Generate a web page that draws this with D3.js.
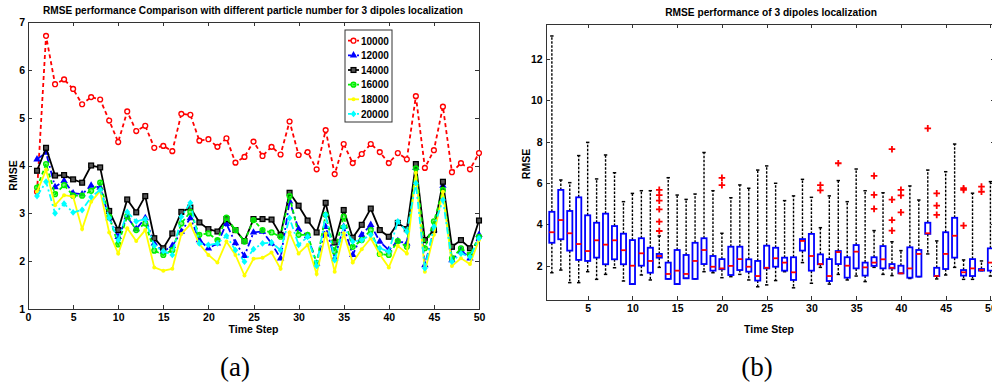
<!DOCTYPE html>
<html lang="en">
<head>
<meta charset="UTF-8">
<title>RMSE performance - D3.js v7</title>
<script src="https://d3js.org/d3.v7.min.js"></script>
<style>
    body { margin: 0; background: #fff; }
    svg { display: block; }
    .axis text { font-family: "Liberation Sans", Arial, sans-serif; font-size: 10.5px; font-weight: bold; fill: #000; }
    .axis path, .axis line { stroke: #333; stroke-width: 1; shape-rendering: crispEdges; }
    .title, .label, .legend text { font-family: "Liberation Sans", Arial, sans-serif; font-weight: bold; fill: #000; }
    .caption { font-family: "Liberation Serif", "DejaVu Serif", serif; font-size: 27px; fill: #000; }
</style>
</head>
<body>
<div id="chart"></div>
<script>
// time steps shared by both panels
const timeSteps = d3.range(1, 51);

// (a) RMSE per particle number
const rmse10000 = [3.45, 6.71, 5.70, 5.80, 5.60, 5.28, 5.43, 5.38, 4.94, 4.49, 5.13, 4.72, 4.83, 4.37, 4.41, 4.30, 5.08, 5.06, 4.52, 4.55, 4.39, 4.57, 4.06, 4.18, 4.50, 4.20, 4.39, 4.23, 4.92, 4.22, 4.28, 3.92, 4.74, 3.82, 4.45, 4.05, 4.24, 4.45, 4.28, 4.05, 4.26, 4.13, 5.45, 3.95, 4.32, 5.23, 3.86, 4.05, 3.92, 4.26];
const rmse12000 = [4.13, 4.27, 3.55, 3.68, 3.42, 3.40, 3.58, 3.54, 2.90, 2.51, 2.92, 2.67, 2.90, 2.37, 2.20, 2.32, 2.62, 2.90, 2.44, 2.27, 2.37, 2.78, 2.38, 2.11, 2.60, 2.62, 2.37, 2.06, 3.25, 2.67, 2.53, 1.95, 2.72, 2.06, 2.72, 2.13, 2.55, 2.76, 2.41, 2.23, 2.42, 2.37, 3.95, 1.92, 2.65, 3.58, 2.02, 2.23, 2.06, 2.55];
const rmse14000 = [3.89, 4.37, 3.79, 3.80, 3.71, 3.64, 4.00, 3.96, 3.05, 2.65, 3.29, 3.02, 3.36, 2.48, 2.27, 2.58, 3.03, 3.12, 2.81, 2.67, 2.62, 2.88, 2.65, 2.42, 2.88, 2.88, 2.87, 2.55, 3.43, 3.16, 2.85, 2.60, 3.22, 2.39, 3.07, 2.49, 2.76, 3.10, 2.65, 2.51, 2.80, 2.67, 4.03, 2.44, 2.65, 3.66, 2.30, 2.44, 2.27, 2.85];
const rmse16000 = [3.54, 4.03, 3.40, 3.59, 3.37, 3.37, 3.47, 3.64, 2.93, 2.35, 2.94, 2.65, 2.79, 2.22, 2.13, 2.23, 2.79, 3.03, 2.55, 2.58, 2.44, 2.91, 2.65, 2.41, 2.86, 2.65, 2.60, 2.51, 3.36, 2.55, 2.55, 1.96, 2.97, 2.20, 2.93, 2.30, 2.44, 2.65, 2.15, 2.13, 2.42, 2.30, 3.94, 2.27, 2.83, 3.49, 2.06, 2.27, 2.13, 2.51];
const rmse18000 = [3.45, 3.91, 3.17, 3.38, 3.35, 2.67, 3.24, 3.47, 2.60, 2.16, 2.69, 2.42, 2.65, 1.87, 1.80, 1.84, 2.57, 2.77, 2.36, 2.13, 1.97, 2.41, 2.13, 1.70, 2.05, 2.07, 2.18, 1.84, 2.60, 2.16, 2.34, 1.73, 2.58, 1.78, 2.58, 1.97, 2.25, 2.48, 2.14, 1.87, 2.32, 2.16, 3.85, 1.78, 2.55, 3.45, 1.90, 2.06, 1.94, 2.44];
const rmse20000 = [3.36, 3.66, 3.00, 3.20, 3.02, 3.07, 3.34, 3.49, 2.90, 2.44, 3.03, 2.83, 2.88, 2.32, 2.21, 2.13, 2.93, 3.22, 2.37, 2.34, 2.37, 2.53, 2.23, 1.99, 2.25, 2.37, 2.39, 2.23, 2.90, 2.34, 2.51, 1.90, 2.97, 2.02, 2.72, 2.41, 2.44, 2.55, 2.27, 2.20, 2.83, 2.62, 3.63, 1.85, 2.72, 3.28, 1.99, 2.16, 2.09, 2.48];
const seriesNames = ["10000", "12000", "14000", "16000", "18000", "20000"];

// (b) boxplot statistics per time step
const boxLow  = [1.66, 1.79, 1.18, 1.18, 1.71, 1.34, 1.58, 1.90, 1.26, 1.11, 1.55, 1.31, 1.92, 1.36, 1.11, 1.39, 1.36, 1.71, 1.66, 1.42, 1.47, 1.58, 1.31, 0.98, 1.07, 1.28, 1.71, 0.93, 2.15, 1.15, 1.92, 1.11, 1.58, 1.31, 1.50, 1.23, 1.92, 1.58, 1.52, 1.63, 1.38, 1.47, 2.57, 1.36, 1.55, 1.92, 1.34, 1.34, 1.76, 1.50];
const boxQ1   = [3.11, 3.28, 2.73, 2.28, 2.23, 2.39, 2.07, 2.31, 2.07, 1.11, 2.00, 1.66, 2.39, 1.36, 1.11, 1.39, 1.36, 2.08, 1.76, 1.83, 1.55, 1.79, 1.71, 1.28, 1.87, 1.95, 1.76, 1.31, 2.73, 1.76, 2.07, 1.26, 2.08, 1.42, 1.87, 1.52, 1.99, 1.87, 1.87, 1.63, 1.42, 1.47, 3.54, 1.50, 1.84, 2.39, 1.52, 1.50, 1.76, 1.76];
const boxMed  = [3.62, 4.21, 3.57, 3.05, 2.71, 3.23, 3.02, 3.23, 2.75, 2.00, 2.60, 2.23, 2.47, 1.60, 1.76, 1.60, 2.23, 2.76, 1.95, 1.87, 1.99, 2.32, 1.95, 1.50, 1.90, 2.36, 2.15, 1.68, 3.20, 2.47, 2.08, 1.50, 2.66, 2.00, 2.68, 1.92, 2.15, 2.31, 1.90, 1.63, 1.87, 2.57, 3.57, 1.50, 2.57, 3.45, 1.68, 1.87, 1.79, 2.15];
const boxQ3   = [4.61, 5.67, 4.65, 5.31, 4.44, 4.08, 4.52, 3.92, 3.55, 3.24, 3.33, 2.87, 2.57, 2.15, 2.76, 2.52, 3.11, 3.33, 2.47, 2.32, 2.92, 2.92, 2.31, 2.23, 2.97, 2.87, 2.39, 2.41, 3.29, 3.54, 2.55, 2.32, 2.71, 2.41, 3.00, 2.15, 2.41, 2.95, 2.08, 2.00, 2.89, 2.76, 4.08, 1.90, 3.62, 4.32, 1.79, 2.32, 1.84, 2.84];
const boxHigh = [13.12, 6.15, 6.02, 7.33, 7.97, 6.20, 7.36, 6.50, 5.10, 5.50, 5.63, 5.63, 3.44, 6.26, 5.42, 5.21, 5.47, 7.48, 5.63, 3.57, 5.29, 5.91, 5.75, 6.63, 6.83, 5.99, 5.15, 5.38, 6.18, 5.31, 3.84, 5.38, 6.12, 5.10, 6.68, 5.63, 3.70, 5.53, 3.16, 2.73, 5.86, 5.18, 6.63, 3.20, 6.55, 7.89, 2.28, 5.51, 2.23, 6.07];
const boxOutliers = [
    [], [], [], [], [], [], [], [], [], [], [], [],
    [3.68, 4.13, 4.73, 5.15, 5.42, 5.67],
    [], [], [], [], [], [],
    [5.90, 6.25],
    [], [], [], [], [], [], [], [], [], [],
    [5.65, 5.90],
    [],
    [6.96],
    [], [], [],
    [4.75, 5.43, 6.35],
    [],
    [3.70, 4.21, 5.20, 7.64],
    [4.58, 5.40, 5.67],
    [], [],
    [8.65],
    [4.46, 4.91, 5.50],
    [], [],
    [3.94, 5.67, 5.75],
    [],
    [5.58, 5.83],
    []
];

const xTicksA = [0, 5, 10, 15, 20, 25, 30, 35, 40, 45, 50];
const yTicksA = [1, 2, 3, 4, 5, 6, 7];
const xTicksB = [5, 10, 15, 20, 25, 30, 35, 40, 45, 50];
const yTicksB = [2, 4, 6, 8, 10, 12];

const W = 992, H = 386;
const svg = d3.select("#chart").append("svg")
    .attr("width", W)
    .attr("height", H);

// ---------- panel (a) ----------
const xA = d3.scaleLinear().domain([0, 50]).range([28, 479]);
const yA = d3.scaleLinear().domain([1, 7]).range([309, 22]);

const styles = [
    { color: "#ff0000", dash: "4,3", marker: "circle-open" },
    { color: "#0000ff", dash: "7,3,2,3", marker: "triangle" },
    { color: "#000000", dash: null, marker: "square" },
    { color: "#00ee00", dash: "4,3", marker: "circle" },
    { color: "#ffff00", dash: null, marker: "dot" },
    { color: "#00ffff", dash: "7,3,2,3", marker: "diamond" }
];
const allSeries = [rmse10000, rmse12000, rmse14000, rmse16000, rmse18000, rmse20000];

function axesFrame(g, x, y, xTicks, yTicks) {
    const [x0, x1] = x.range(), [y0, y1] = y.range();
    const fmt = d3.format("d");
    g.append("g").attr("class", "axis")
        .attr("transform", `translate(0,${y0})`)
        .call(d3.axisBottom(x).tickValues(xTicks).tickFormat(fmt).tickSizeInner(-4).tickSizeOuter(0).tickPadding(5));
    g.append("g").attr("class", "axis")
        .attr("transform", `translate(0,${y1})`)
        .call(d3.axisTop(x).tickValues(xTicks).tickSizeInner(-4).tickSizeOuter(0).tickFormat(""));
    g.append("g").attr("class", "axis")
        .attr("transform", `translate(${x0},0)`)
        .call(d3.axisLeft(y).tickValues(yTicks).tickFormat(fmt).tickSizeInner(-4).tickSizeOuter(0).tickPadding(3));
    g.append("g").attr("class", "axis")
        .attr("transform", `translate(${x1},0)`)
        .call(d3.axisRight(y).tickValues(yTicks).tickSizeInner(-4).tickSizeOuter(0).tickFormat(""));
}

function drawMarker(sel, type, color) {
    if (type === "circle-open" || type === "circle") {
        sel.append("circle").attr("r", 2.4)
            .attr("fill", type === "circle" ? color : "#fff")
            .attr("fill-opacity", type === "circle" ? 0.5 : 1)
            .attr("stroke", color).attr("stroke-width", 1.4);
    } else if (type === "triangle") {
        sel.append("path").attr("d", d3.symbol(d3.symbolTriangle, 24)())
            .attr("fill", color);
    } else if (type === "square") {
        sel.append("rect").attr("x", -2.4).attr("y", -2.4).attr("width", 4.8).attr("height", 4.8)
            .attr("fill", "#555").attr("stroke", color).attr("stroke-width", 1.3);
    } else if (type === "diamond") {
        sel.append("path").attr("d", "M0,-3.4L2.9,0L0,3.4L-2.9,0Z").attr("fill", color);
    } else {
        sel.append("circle").attr("r", 2).attr("fill", color);
    }
}

const panelA = svg.append("g");
axesFrame(panelA, xA, yA, xTicksA, yTicksA);

const lineA = d3.line().x((d, i) => xA(timeSteps[i])).y(d => yA(d));
allSeries.forEach((vals, k) => {
    const s = styles[k];
    const g = panelA.append("g");
    g.append("path").datum(vals)
        .attr("d", lineA)
        .attr("fill", "none")
        .attr("stroke", s.color)
        .attr("stroke-width", 1.8)
        .attr("stroke-dasharray", s.dash);
    g.selectAll(".pt").data(vals).join("g")
        .attr("transform", (d, i) => `translate(${xA(timeSteps[i])},${yA(d)})`)
        .each(function () { drawMarker(d3.select(this), s.marker, s.color); });
});

panelA.append("text").attr("class", "title")
    .attr("x", 253).attr("y", 14)
    .attr("text-anchor", "middle").style("font-size", "10.1px")
    .text("RMSE performance Comparison with different particle number for 3 dipoles localization");
panelA.append("text").attr("class", "label")
    .attr("x", (xA(0) + xA(50)) / 2).attr("y", 333)
    .attr("text-anchor", "middle").style("font-size", "10.5px")
    .text("Time Step");
panelA.append("text").attr("class", "label")
    .attr("transform", `translate(17,${(yA(1) + yA(7)) / 2 + 10}) rotate(-90)`)
    .attr("text-anchor", "middle").style("font-size", "10.5px")
    .text("RMSE");

// legend
const legend = panelA.append("g").attr("class", "legend");
legend.append("rect")
    .attr("x", 345).attr("y", 30).attr("width", 47).attr("height", 92)
    .attr("fill", "#fff").attr("stroke", "#333").attr("stroke-width", 1);
seriesNames.forEach((name, k) => {
    const s = styles[k];
    const ly = 40.7 + k * 14.65;
    const row = legend.append("g");
    row.append("line").attr("x1", 348).attr("x2", 359).attr("y1", ly).attr("y2", ly)
        .attr("stroke", s.color).attr("stroke-width", 1.8)
        .attr("stroke-dasharray", s.dash ? "3,1.5" : null);
    const m = row.append("g").attr("transform", `translate(353.5,${ly})`);
    drawMarker(m, s.marker, s.color);
    row.append("text").attr("x", 361).attr("y", ly + 3.8)
        .style("font-size", "10px").text(name);
});

// ---------- panel (b) ----------
const xB = d3.scaleLinear().domain([0.3, 50.5]).range([545.6, 994.9]);
const yB = d3.scaleLinear().domain([0.34, 13.7]).range([300, 24]);

const panelB = svg.append("g");
axesFrame(panelB, xB, yB, xTicksB, yTicksB);

const boxW = 5.2, capW = 3.4;
const boxes = panelB.selectAll(".box").data(timeSteps).join("g")
    .attr("class", "box")
    .attr("transform", d => `translate(${xB(d)},0)`);

boxes.append("line")
    .attr("y1", (d, i) => yB(boxQ3[i])).attr("y2", (d, i) => yB(boxHigh[i]))
    .attr("stroke", "#000").attr("stroke-width", 1.4).attr("stroke-dasharray", "2.5,1.5");
boxes.append("line")
    .attr("y1", (d, i) => yB(boxQ1[i])).attr("y2", (d, i) => yB(boxLow[i]))
    .attr("stroke", "#000").attr("stroke-width", 1.4).attr("stroke-dasharray", "2.5,1.5");
boxes.append("line")
    .attr("x1", -capW / 2).attr("x2", capW / 2)
    .attr("y1", (d, i) => yB(boxHigh[i])).attr("y2", (d, i) => yB(boxHigh[i]))
    .attr("stroke", "#000").attr("stroke-width", 1.5);
boxes.append("line")
    .attr("x1", -capW / 2).attr("x2", capW / 2)
    .attr("y1", (d, i) => yB(boxLow[i])).attr("y2", (d, i) => yB(boxLow[i]))
    .attr("stroke", "#000").attr("stroke-width", 1.5);
boxes.append("rect")
    .attr("x", -boxW / 2).attr("width", boxW)
    .attr("y", (d, i) => yB(boxQ3[i]))
    .attr("height", (d, i) => Math.max(0.5, yB(boxQ1[i]) - yB(boxQ3[i])))
    .attr("fill", "none").attr("stroke", "#0000ff").attr("stroke-width", 1.8);
boxes.append("line")
    .attr("x1", -boxW / 2).attr("x2", boxW / 2)
    .attr("y1", (d, i) => yB(boxMed[i])).attr("y2", (d, i) => yB(boxMed[i]))
    .attr("stroke", "#ff0000").attr("stroke-width", 1.8);
boxes.each(function (d, i) {
    d3.select(this).selectAll(".out").data(boxOutliers[i]).join("path")
        .attr("class", "out")
        .attr("d", v => `M-3.3,${yB(v)}H3.3M0,${yB(v) - 3.3}V${yB(v) + 3.3}`)
        .attr("stroke", "#ff0000").attr("stroke-width", 1.8);
});

panelB.append("text").attr("class", "title")
    .attr("x", 771).attr("y", 16)
    .attr("text-anchor", "middle").style("font-size", "10.2px")
    .text("RMSE performance of 3 dipoles localization");
panelB.append("text").attr("class", "label")
    .attr("x", 769).attr("y", 333)
    .attr("text-anchor", "middle").style("font-size", "10.5px")
    .text("Time Step");
panelB.append("text").attr("class", "label")
    .attr("transform", `translate(530,164) rotate(-90)`)
    .attr("text-anchor", "middle").style("font-size", "10.5px")
    .text("RMSE");

// sub-figure captions
svg.append("text").attr("class", "caption")
    .attr("x", 235).attr("y", 376).attr("text-anchor", "middle").text("(a)");
svg.append("text").attr("class", "caption")
    .attr("x", 757).attr("y", 376).attr("text-anchor", "middle").text("(b)");
</script>
</body>
</html>
